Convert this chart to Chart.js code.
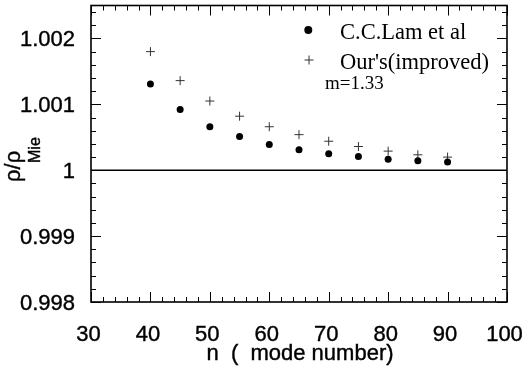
<!DOCTYPE html>
<html>
<head>
<meta charset="utf-8">
<script src="https://cdn.jsdelivr.net/npm/chart.js@4"></script>
<style>
  html, body { margin: 0; padding: 0; background: #fff; }
  canvas { display: block; }
</style>
</head>
<body>
<canvas id="ratioChart" width="524" height="371"></canvas>
<script>
// Data
const modeNumbers = [40, 45, 50, 55, 60, 65, 70, 75, 80, 85, 90];
const lamRatio = [1.00131, 1.00092, 1.00066, 1.00051, 1.00039, 1.00031, 1.00025, 1.00021, 1.000165, 1.000144, 1.000124];
const oursRatio = [1.00180, 1.00136, 1.00105, 1.00082, 1.00066, 1.00054, 1.00044, 1.00036, 1.00029, 1.000234, 1.000199];
const refLineX = [30, 100];
const refLineY = [1, 1];
const xTicks = [30, 40, 50, 60, 70, 80, 90, 100];
const yTicks = [0.998, 0.999, 1, 1.001, 1.002];
const legendLabels = ['C.C.Lam et al', "Our's(improved)"];
const noteText = 'm=1.33';
const xTitle = 'n  (  mode number)';

const sansFont = '"Liberation Sans", Arial, sans-serif';
const serifFont = '"Liberation Serif", "Times New Roman", serif';

// Frame, inward ticks, titles and legend
const framePlugin = {
    id: 'frame',
    afterDraw(chart) {
        const ctx = chart.ctx;
        const area = chart.chartArea;
        const xs = chart.scales.x;
        const ys = chart.scales.y;
        ctx.save();
        ctx.strokeStyle = '#000';

        // inward ticks, minor every 2 on x and 0.0002 on y
        ctx.lineWidth = 1;
        ctx.beginPath();
        for (let i = 0; i <= 35; i++) {
            const v = 30 + i * 2;
            const px = Math.round(xs.getPixelForValue(v)) + 0.5;
            const len = (v % 10 === 0) ? 10 : 5;
            ctx.moveTo(px, area.bottom);
            ctx.lineTo(px, area.bottom - len);
            ctx.moveTo(px, area.top);
            ctx.lineTo(px, area.top + len);
        }
        for (let i = 0; i <= 22; i++) {
            const v = 0.998 + i * 0.0002;
            const py = Math.round(ys.getPixelForValue(v)) + 0.5;
            const len = (i % 5 === 0) ? 10 : 5;
            ctx.moveTo(area.left, py);
            ctx.lineTo(area.left + len, py);
            ctx.moveTo(area.right, py);
            ctx.lineTo(area.right - len, py);
        }
        ctx.stroke();

        // frame
        ctx.lineWidth = 1.6;
        ctx.strokeRect(area.left, area.top, area.right - area.left, area.bottom - area.top);

        // x title
        ctx.fillStyle = '#000';
        ctx.lineWidth = 0.4;
        ctx.font = '22px ' + sansFont;
        ctx.textAlign = 'center';
        ctx.textBaseline = 'alphabetic';
        const tx = (area.left + area.right) / 2 + 1;
        ctx.fillText(xTitle, tx, 360);
        ctx.strokeText(xTitle, tx, 360);

        // y title with subscript
        ctx.save();
        ctx.translate(20, 182);
        ctx.rotate(-Math.PI / 2);
        ctx.textAlign = 'left';
        ctx.font = '22px ' + sansFont;
        ctx.fillText('\u03c1/\u03c1', 0, 0);
        ctx.strokeText('\u03c1/\u03c1', 0, 0);
        ctx.font = '16px ' + sansFont;
        ctx.fillText('Mie', 19, 20);
        ctx.strokeText('Mie', 19, 20);
        ctx.restore();

        // legend
        const lamSet = chart.data.datasets[0];
        const oursSet = chart.data.datasets[1];
        ctx.fillStyle = lamSet.backgroundColor;
        Chart.helpers.drawPoint(ctx, {
            pointStyle: 'circle', radius: 4, borderWidth: 0
        }, 308.3, 30);
        ctx.strokeStyle = oursSet.borderColor;
        ctx.lineWidth = 1;
        Chart.helpers.drawPoint(ctx, {
            pointStyle: 'cross', radius: 4.5, borderWidth: 1
        }, 309, 60);

        ctx.fillStyle = '#000';
        ctx.textAlign = 'left';
        ctx.font = '22.5px ' + serifFont;
        ctx.fillText(legendLabels[0], 340, 38.5);
        ctx.fillText(legendLabels[1], 340, 68.5);
        ctx.font = '19px ' + serifFont;
        ctx.fillText(noteText, 325, 89);
        ctx.restore();
    }
};

const ctx = document.getElementById('ratioChart').getContext('2d');
new Chart(ctx, {
    type: 'scatter',
    data: {
        datasets: [
            {
                label: legendLabels[0],
                data: modeNumbers.map((n, i) => ({ x: n, y: lamRatio[i] })),
                pointStyle: 'circle',
                pointRadius: 3.5,
                backgroundColor: '#000',
                borderColor: '#000',
                borderWidth: 0
            },
            {
                label: legendLabels[1],
                data: modeNumbers.map((n, i) => ({ x: n, y: oursRatio[i] })),
                pointStyle: 'cross',
                pointRadius: 4.5,
                backgroundColor: '#333',
                borderColor: '#333',
                borderWidth: 1
            },
            {
                type: 'line',
                label: 'reference',
                data: refLineX.map((x, i) => ({ x: x, y: refLineY[i] })),
                borderColor: '#000',
                borderWidth: 1.5,
                pointRadius: 0,
                fill: false
            }
        ]
    },
    options: {
        responsive: false,
        animation: false,
        devicePixelRatio: 1,
        layout: {
            padding: { top: 2, right: 17, left: 0, bottom: 0 }
        },
        plugins: {
            legend: { display: false },
            tooltip: { enabled: false }
        },
        scales: {
            x: {
                type: 'linear',
                min: 30,
                max: 100,
                grid: { display: false, drawTicks: false },
                border: { display: false },
                afterBuildTicks: scale => {
                    scale.ticks = xTicks.map(v => ({ value: v }));
                },
                afterFit: scale => {
                    scale.height = 69;
                    scale.paddingLeft = 0;
                    scale.paddingRight = 0;
                },
                ticks: {
                    color: '#000',
                    font: { family: sansFont, size: 22 },
                    textStrokeColor: '#000',
                    textStrokeWidth: 0.4,
                    padding: 20,
                    labelOffset: -2.5,
                    maxRotation: 0,
                    autoSkip: false,
                    callback: v => String(v)
                }
            },
            y: {
                type: 'linear',
                min: 0.998,
                max: 1.0025,
                grid: { display: false, drawTicks: false },
                border: { display: false },
                afterBuildTicks: scale => {
                    scale.ticks = yTicks.map(v => ({ value: v }));
                },
                afterFit: scale => {
                    scale.width = 91;
                    scale.paddingTop = 0;
                    scale.paddingBottom = 0;
                },
                ticks: {
                    color: '#000',
                    font: { family: sansFont, size: 22 },
                    textStrokeColor: '#000',
                    textStrokeWidth: 0.4,
                    padding: 16,
                    labelOffset: 1.5,
                    autoSkip: false,
                    callback: v => String(v)
                }
            }
        }
    },
    plugins: [framePlugin]
});
</script>
</body>
</html>
